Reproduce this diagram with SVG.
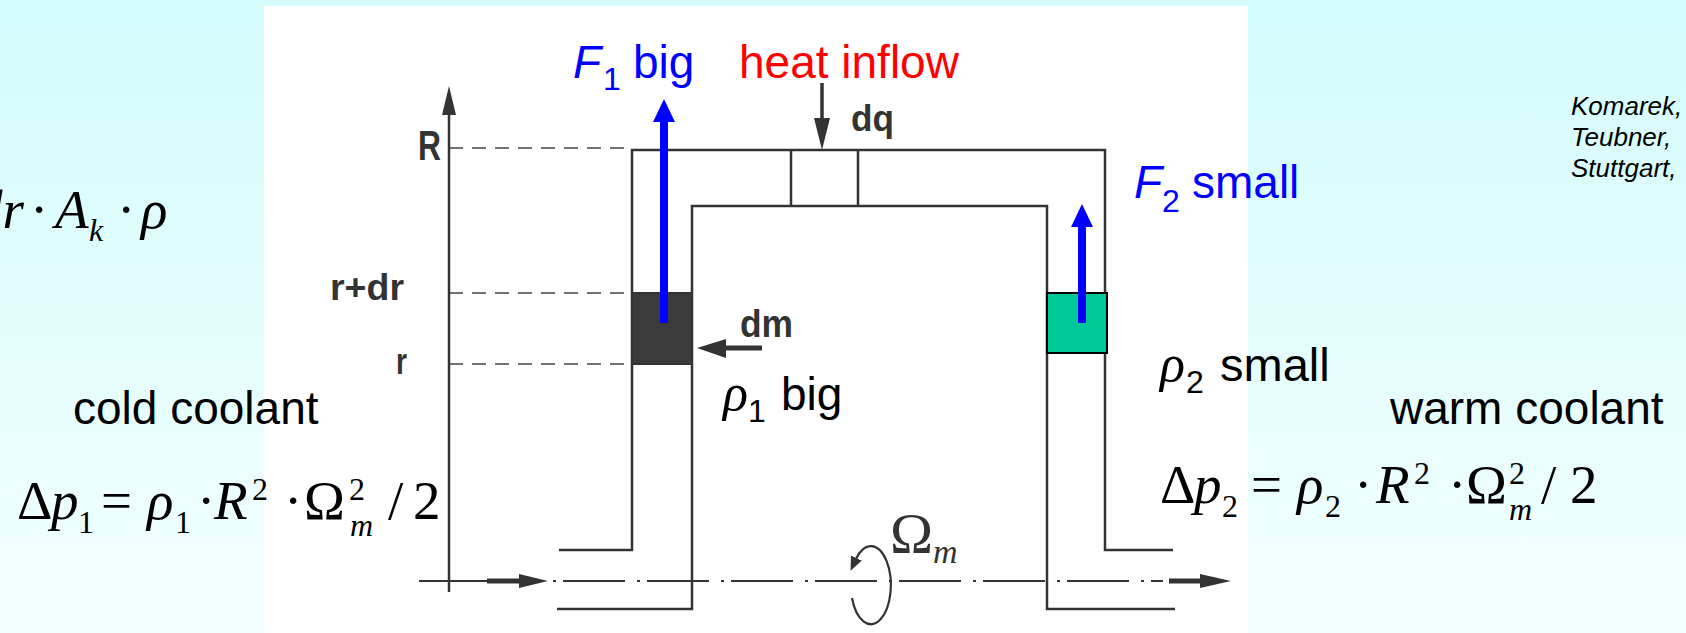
<svg xmlns="http://www.w3.org/2000/svg" width="1686" height="633" viewBox="0 0 1686 633">
<defs>
<linearGradient id="bg" x1="0" y1="0" x2="0" y2="1">
<stop offset="0" stop-color="#d3fbfb"/>
<stop offset="1" stop-color="#f3ffff"/>
</linearGradient>
<marker id="blueHead" markerUnits="userSpaceOnUse" viewBox="0 0 23 22" markerWidth="23" markerHeight="22" refX="1" refY="11" orient="auto">
<path d="M0,0 L23,11 L0,22 z" fill="#0000ff"/>
</marker>
<marker id="smallHead" markerUnits="userSpaceOnUse" viewBox="0 0 14 12" markerWidth="14" markerHeight="12" refX="1" refY="6" orient="auto">
<path d="M0,0 L14,6 L0,12 z" fill="#333"/>
</marker>
</defs>
<style>
.ink{fill:none;stroke:#333;stroke-width:2.5}
.dash{fill:none;stroke:#444;stroke-width:1.6;stroke-dasharray:14 9}
.blue{stroke:#0000ff;stroke-width:8;fill:none;marker-end:url(#blueHead)}
.lab{font-family:"Liberation Sans",Arial,sans-serif;font-size:46px}
.sub{font-family:"Liberation Sans",Arial,sans-serif;font-size:32px}
.math{font-family:"Liberation Serif","Times New Roman",serif;font-size:55px;fill:#000}
.it{font-style:italic}
.ms{font-size:32px}
.axl{font-family:"Liberation Sans",Arial,sans-serif;font-weight:bold;fill:#333}
.cite{font-family:"Liberation Sans",Arial,sans-serif;font-style:italic;font-size:26px;fill:#000}
</style>
<rect x="0" y="0" width="1686" height="633" fill="url(#bg)"/>
<rect x="264" y="6" width="984" height="627" fill="#ffffff"/>

<g id="pipe">
<path class="ink" d="M559,550 H632 V150 H1105 V550 H1173"/>
<path class="ink" d="M557,609 H692 V206 H1047 V609 H1175"/>
<path class="ink" d="M791,150 V206 M858,150 V206"/>
</g>

<g id="mass-element-dm">
<rect x="632" y="293" width="60" height="71" fill="#3b3b3b" stroke="#333" stroke-width="2"/>
</g>
<g id="mass-element-warm">
<rect x="1047" y="293" width="60" height="60" fill="#00c896" stroke="#000" stroke-width="2"/>
</g>

<g id="axis">
<path class="dash" d="M449,148 H632 M449,293 H632 M449,364 H632"/>
<path d="M449,592 V112" stroke="#333" stroke-width="2.5" fill="none"/>
<path d="M442,115 L449,86 L456,115 z" fill="#333"/>
<path d="M419,581 H488" stroke="#333" stroke-width="2"/>
<text class="axl" x="418" y="160" font-size="43" textLength="23" lengthAdjust="spacingAndGlyphs">R</text>
<text class="axl" x="330" y="300" font-size="37" textLength="74" lengthAdjust="spacingAndGlyphs">r+dr</text>
<text class="axl" x="396" y="374" font-size="37" textLength="11" lengthAdjust="spacingAndGlyphs">r</text>
</g>

<g id="centerline">
<path d="M553,581 H1163" fill="none" stroke="#333" stroke-width="2" stroke-dasharray="3 7 62 12"/>
</g>

<g id="rotation">
<path d="M852,598 A20,39 0 1,0 856,559" fill="none" stroke="#333" stroke-width="2.2" marker-end="url(#smallHead)"/>
<text x="890" y="553" font-family="Liberation Serif, serif" font-size="58" fill="#333">Ω</text>
<text x="933" y="563" font-family="Liberation Serif, serif" font-style="italic" font-size="34" fill="#333">m</text>
</g>

<g id="connectors">
<path class="blue" d="M664,323 V121"/>
<path class="blue" d="M1082,323 V226"/>
<path d="M822,83 V120" stroke="#333" stroke-width="3.5" fill="none"/>
<path d="M814,118 L822,150 L830,118 z" fill="#333"/>
<path d="M762,348 H724" stroke="#333" stroke-width="5" fill="none"/>
<path d="M726,339 L697,348 L726,358 z" fill="#333"/>
<path d="M487,581 H521" stroke="#333" stroke-width="5"/>
<path d="M519,574 L548,581 L519,588 z" fill="#333"/>
<path d="M1169,581 H1202" stroke="#333" stroke-width="5"/>
<path d="M1200,574 L1231,581 L1200,588 z" fill="#333"/>
</g>

<g id="label-dq"><text class="axl" x="851" y="131" font-size="37" textLength="43" lengthAdjust="spacingAndGlyphs">dq</text></g>
<g id="label-dm"><text class="axl" x="740" y="337" font-size="39" textLength="53" lengthAdjust="spacingAndGlyphs">dm</text></g>

<g id="label-F1">
<text class="lab" fill="#0000ff"><tspan x="573" y="78" font-style="italic">F</tspan><tspan class="sub" x="603" y="90">1</tspan><tspan x="633" y="78">big</tspan></text>
</g>
<g id="label-heat">
<text class="lab" x="739" y="78" fill="#ff0000" font-size="47">heat inflow</text>
</g>
<g id="label-F2">
<text class="lab" fill="#0000ff"><tspan x="1134" y="198" font-style="italic">F</tspan><tspan class="sub" x="1162" y="212">2</tspan><tspan x="1192" y="198">small</tspan></text>
</g>
<g id="label-rho1">
<text class="lab" fill="#000"><tspan x="723" y="410" font-family="Liberation Serif, serif" font-style="italic" font-size="52">ρ</tspan><tspan class="sub" x="748" y="422">1</tspan><tspan x="781" y="410">big</tspan></text>
</g>
<g id="label-rho2">
<text class="lab" fill="#000"><tspan x="1160" y="381" font-family="Liberation Serif, serif" font-style="italic" font-size="52">ρ</tspan><tspan class="sub" x="1186" y="393">2</tspan><tspan x="1220" y="381" font-size="47">small</tspan></text>
</g>
<g id="label-cold"><text class="lab" x="73" y="424" fill="#000" font-size="47">cold coolant</text></g>
<g id="label-warm"><text class="lab" x="1390" y="424" fill="#000" font-size="47">warm coolant</text></g>

<g id="formula-top">
<text class="math" font-size="57"><tspan class="it" x="-25" y="228">dr</tspan><tspan x="30" y="228">·</tspan><tspan class="it" x="55" y="228">A</tspan><tspan class="it ms" x="89" y="241">k</tspan><tspan x="117" y="228">·</tspan><tspan class="it" x="141" y="228">ρ</tspan></text>
</g>
<g id="formula-1">
<text class="math"><tspan x="17" y="519">Δ</tspan><tspan class="it" x="51" y="519">p</tspan><tspan class="ms" x="78" y="533">1</tspan><tspan x="101" y="519">=</tspan><tspan class="it" x="147" y="519">ρ</tspan><tspan class="ms" x="175" y="533">1</tspan><tspan x="197" y="519">·</tspan><tspan class="it" x="214" y="519">R</tspan><tspan class="ms" x="252" y="500">2</tspan><tspan x="284" y="519">·</tspan><tspan x="304" y="519">Ω</tspan><tspan class="ms" x="349" y="500">2</tspan><tspan class="it ms" x="350" y="536">m</tspan><tspan x="388" y="519">/</tspan><tspan x="413" y="519">2</tspan></text>
</g>
<g id="formula-2">
<text class="math"><tspan x="1160" y="503">Δ</tspan><tspan class="it" x="1194" y="503">p</tspan><tspan class="ms" x="1222" y="517">2</tspan><tspan x="1251" y="503">=</tspan><tspan class="it" x="1297" y="503">ρ</tspan><tspan class="ms" x="1325" y="517">2</tspan><tspan x="1354" y="503">·</tspan><tspan class="it" x="1376" y="503">R</tspan><tspan class="ms" x="1414" y="484">2</tspan><tspan x="1448" y="503">·</tspan><tspan x="1466" y="503">Ω</tspan><tspan class="ms" x="1509" y="484">2</tspan><tspan class="it ms" x="1509" y="520">m</tspan><tspan x="1541" y="503">/</tspan><tspan x="1570" y="503">2</tspan></text>
</g>

<g id="citation">
<text class="cite"><tspan x="1571" y="115">Komarek,</tspan><tspan x="1571" y="146">Teubner,</tspan><tspan x="1571" y="177">Stuttgart,</tspan></text>
</g>
</svg>
